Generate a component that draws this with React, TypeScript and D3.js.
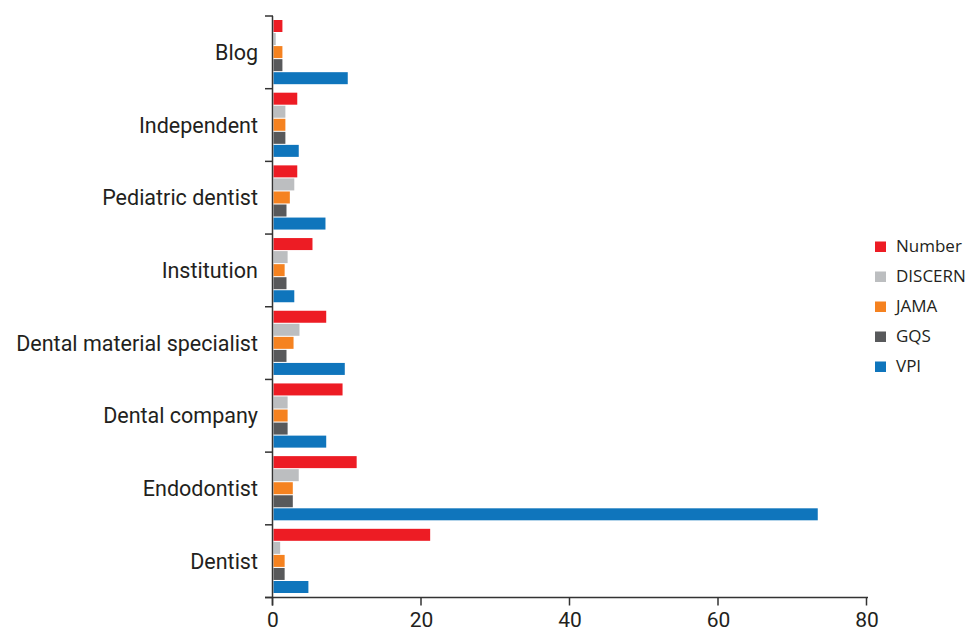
import React from "react";
import * as d3 from "d3";

const categories = ["Blog", "Independent", "Pediatric dentist", "Institution", "Dental material specialist", "Dental company", "Endodontist", "Dentist"];
const seriesNames = ["Number", "DISCERN", "JAMA", "GQS", "VPI"];
const seriesColors = ["#ED1C24", "#BCBEC0", "#F58220", "#58595B", "#0F75BC"];
const numberVals = [1.2, 3.2, 3.2, 5.25, 7.1, 9.3, 11.2, 21.1];
const discernVals = [0.3, 1.6, 2.8, 1.9, 3.5, 1.9, 3.4, 0.9];
const jamaVals = [1.2, 1.6, 2.2, 1.5, 2.7, 1.9, 2.6, 1.5];
const gqsVals = [1.2, 1.6, 1.75, 1.75, 1.75, 1.9, 2.6, 1.5];
const vpiVals = [10.0, 3.4, 7.0, 2.8, 9.6, 7.1, 73.3, 4.7];
const xTicks = [0, 20, 40, 60, 80];

const seriesVals = [numberVals, discernVals, jamaVals, gqsVals, vpiVals];

export default function App() {
  const W = 970, H = 632;
  const x0 = 273, x1 = 867, yTop = 16, yBot = 597.5;
  const x = d3.scaleLinear().domain([0, 80]).range([x0, x1]);
  const y = d3.scaleBand<string>().domain(categories).range([yTop, yBot]);
  const inner = d3.scaleBand<string>().domain(seriesNames).range([4, y.bandwidth() - 4.5]).paddingInner(0.08);
  const font = "Roboto, sans-serif";
  const legendFont = "'Open Sans', sans-serif";
  const axisColor = "#333";
  return (
    <svg width={W} height={H} style={{ position: "absolute", left: 0, top: 0, background: "#fff" }} fontFamily={font}>
      {categories.map((c, ci) => (
        <g key={c}>
          {seriesNames.map((s, si) => (
            <rect key={s} x={x(0) + 0.5} y={(y(c) as number) + (inner(s) as number)} width={x(seriesVals[si][ci]) - x(0)} height={inner.bandwidth()} fill={seriesColors[si]} />
          ))}
          <text x={258} y={(y(c) as number) + y.bandwidth() / 2 + 7.5} textAnchor="end" fontSize={21.5} fill="#231F20">{c}</text>
        </g>
      ))}
      {/* y axis */}
      <line x1={x0 - 0.5} x2={x0 - 0.5} y1={yTop} y2={yBot + 8} stroke={axisColor} strokeWidth={1.5} />
      {categories.concat(["_end"]).map((c, i) => {
        const yy = i < categories.length ? (y(c) as number) : yBot;
        return <line key={"t" + i} x1={265} x2={x0} y1={yy} y2={yy} stroke={axisColor} strokeWidth={1.5} />;
      })}
      {/* x axis */}
      <line x1={265} x2={x1 + 1} y1={yBot} y2={yBot} stroke={axisColor} strokeWidth={1.5} />
      {xTicks.map((t) => (
        <g key={t}>
          <line x1={x(t) - 0.5} x2={x(t) - 0.5} y1={yBot} y2={yBot + 8} stroke={axisColor} strokeWidth={1.5} />
          <text x={x(t)} y={626.5} textAnchor="middle" fontSize={21} fill="#231F20">{t}</text>
        </g>
      ))}
      {/* legend */}
      {seriesNames.map((s, i) => (
        <g key={s} transform={`translate(875, ${241.5 + i * 30})`}>
          <rect x={0} y={0} width={11} height={10.5} fill={seriesColors[i]} />
          <text x={21} y={10.8} fontFamily={legendFont} fontSize={17} fill="#231F20">{s}</text>
        </g>
      ))}
    </svg>
  );
}
